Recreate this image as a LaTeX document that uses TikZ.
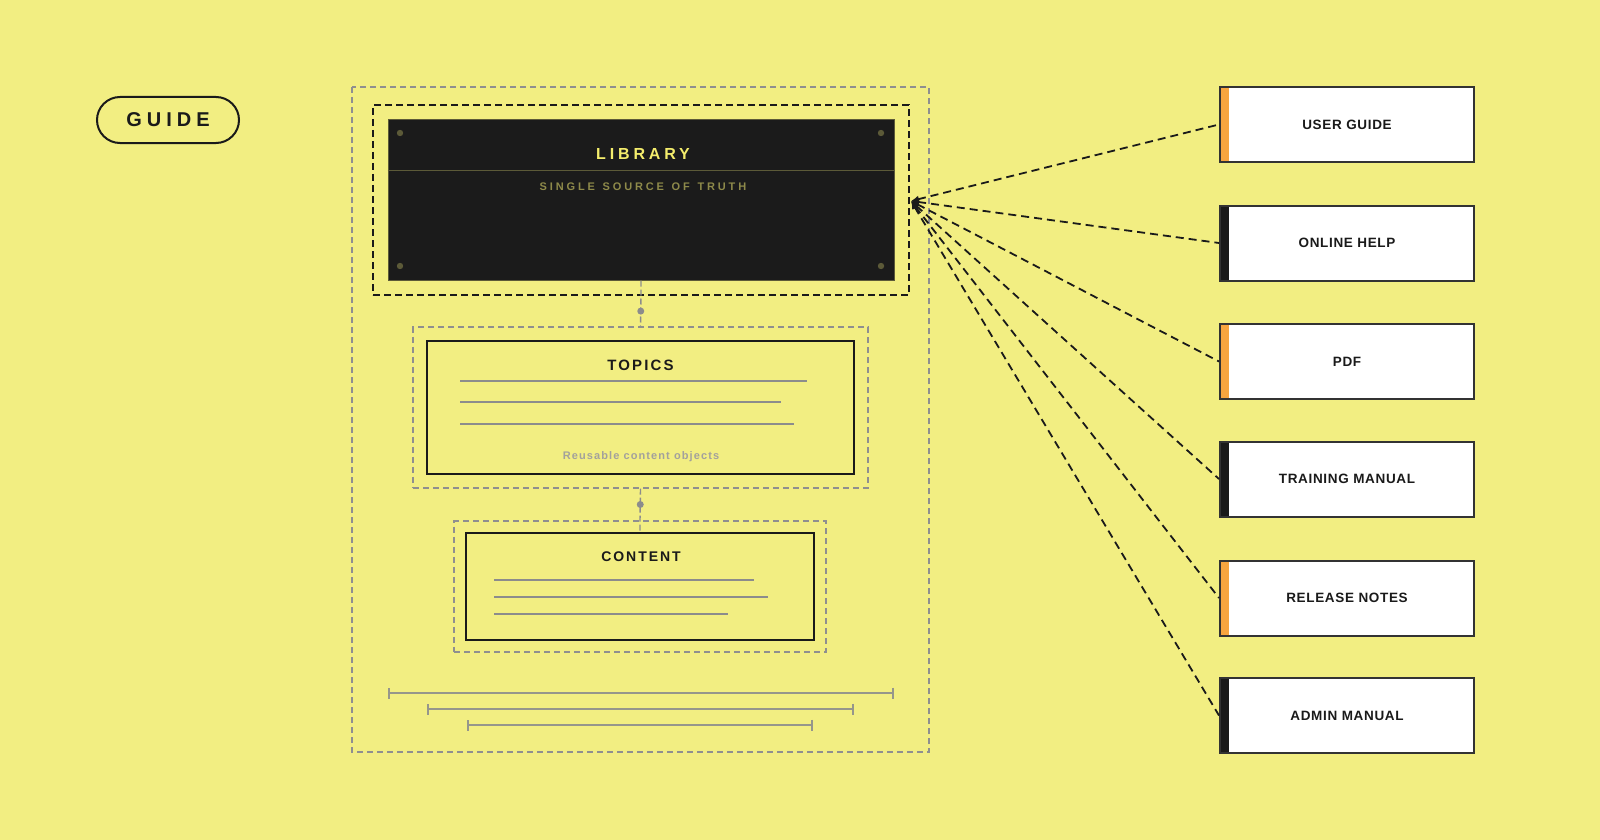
\documentclass[tikz,border=0pt]{standalone}
\usepackage{fontspec}
\setmainfont{Liberation Sans}
\newfontfamily\guidefont{Liberation Sans}[LetterSpace=25]
\newfontfamily\titlefont{Liberation Sans}[LetterSpace=14]
\newfontfamily\libfont{Liberation Sans}[LetterSpace=24]
\newfontfamily\subfont{Liberation Sans}[LetterSpace=26,WordSpace=1.3]
\newfontfamily\boxfont{Liberation Sans}[LetterSpace=5]
\newfontfamily\notefont{Liberation Sans}[LetterSpace=10]
\usetikzlibrary{arrows.meta,positioning,fit}

\definecolor{bgyellow}{HTML}{F2EE82}
\definecolor{libblack}{HTML}{1B1B1B}
\definecolor{libyellow}{HTML}{F4ED6C}
\definecolor{libolive}{HTML}{8E8A4A}
\definecolor{dotolive}{HTML}{5C5A38}
\definecolor{framegray}{HTML}{8F8F8F}
\definecolor{linegray}{HTML}{8C8C8C}
\definecolor{notegray}{HTML}{A3A19C}
\definecolor{stripeorange}{HTML}{F7A53F}
\definecolor{boxedge}{HTML}{333333}
\definecolor{darkink}{HTML}{1A1A1A}

\begin{document}
\begin{tikzpicture}[x=1pt,y=-1pt,
	pill/.style={draw=darkink,line width=2pt,rounded corners=23pt,minimum width=142pt,minimum height=46pt,inner sep=0pt,font=\guidefont\bfseries\fontsize{20}{24}\selectfont,text=darkink},
	libbox/.style={draw=dotolive,line width=1pt,fill=libblack,minimum width=506pt,minimum height=160pt,inner sep=0pt},
	blackframe/.style={draw=darkink,line width=1.6pt,dash pattern=on 7pt off 4pt},
	grayframe/.style={draw=framegray,line width=1.4pt,dash pattern=on 6pt off 4pt},
	topicbox/.style={draw=darkink,line width=2.8pt,inner sep=0pt},
	boxtitle/.style={inner sep=0pt,text=darkink,font=\titlefont\bfseries\fontsize{15}{18}\selectfont},
	textline/.style={draw=linegray,line width=1.8pt},
	link/.style={draw=linegray,line width=1.4pt,dash pattern=on 6pt off 3pt},
	dot/.style={circle,fill=linegray,inner sep=0pt,minimum size=7pt},
	ruler/.style={draw=linegray!90!bgyellow,line width=1.6pt,{Bar[width=11pt]}-{Bar[width=11pt]}},
	outbox/.style={draw=boxedge,line width=2pt,fill=white,minimum width=254pt,minimum height=75pt,inner sep=0pt,
		font=\boxfont\bfseries\fontsize{13.5}{16}\selectfont,text=darkink,
		path picture={\fill[#1] (path picture bounding box.north west) rectangle ([xshift=9pt]path picture bounding box.south west);}},
	output/.style={draw=darkink,line width=1.8pt,dash pattern=on 8pt off 5pt,{Latex[length=8pt,width=7pt]}-}
]
	\fill[bgyellow] (0,0) rectangle (1600,840);

	% tag
	\node[pill] (guide) at (168,120) {GUIDE};

	% outer frame
	\draw[grayframe] (352,87) rectangle (929,752);

	% library
	\node[libbox] (library) at (641,200) {};
	\node[blackframe,fit=(library),inner sep=14.5pt] (libframe) {};
	\draw[draw=dotolive,line width=1pt] (library.west |- 0,170) -- (library.east |- 0,170);
	\fill[dotolive] (400,133) circle [radius=3.2pt] (881,133) circle [radius=3.2pt]
		(400,266) circle [radius=3.2pt] (881,266) circle [radius=3.2pt];
	\node[inner sep=0pt,text=libyellow,font=\libfont\bfseries\fontsize{16}{19}\selectfont] (libtitle) at (643,154) {LIBRARY};
	\node[inner sep=0pt,text=libolive,font=\subfont\bfseries\fontsize{11}{13}\selectfont] (libsub) at (643,187) {SINGLE SOURCE OF TRUTH};

	% topics
	\node[topicbox,minimum width=427pt,minimum height=133pt] (topics) at (640.5,407.5) {};
	\node[grayframe,fit=(topics),inner sep=12.5pt] (topicsframe) {};
	\node[boxtitle] (topicstitle) at (640.5,365.5) {TOPICS};
	\draw[textline] (460,381) -- (807,381);
	\draw[textline] (460,402) -- (781,402);
	\draw[textline] (460,424) -- (794,424);
	\node[inner sep=0pt,text=notegray,font=\notefont\bfseries\fontsize{11}{13}\selectfont] (topicsnote) at (641,457) {Reusable content objects};

	% content
	\node[topicbox,minimum width=348pt,minimum height=107pt] (content) at (640,586.5) {};
	\node[grayframe,fit=(content),inner sep=10.5pt] (contentframe) {};
	\node[boxtitle,font=\titlefont\bfseries\fontsize{14}{17}\selectfont] (contenttitle) at (641,556.5) {CONTENT};
	\draw[textline] (494,580) -- (754,580);
	\draw[textline] (494,597) -- (768,597);
	\draw[textline] (494,614) -- (728,614);

	% links
	\draw[link] (library.south) -- (libframe.south) -- (topicsframe.north) node[midway,dot] {};
	\draw[link] (topicsframe.south) -- (contentframe.north) node[midway,dot] {} -- (content.north);

	% rulers
	\draw[ruler] (388,693) -- (894,693);
	\draw[ruler] (427,709) -- (854,709);
	\draw[ruler] (467,725) -- (813,725);

	% outputs
	\node[outbox=stripeorange] (userguide) at (1347,124.5) {USER GUIDE};
	\node[outbox=darkink] (onlinehelp) at (1347,243) {ONLINE HELP};
	\node[outbox=stripeorange] (pdf) at (1347,361.5) {PDF};
	\node[outbox=darkink] (training) at (1347,479) {TRAINING MANUAL};
	\node[outbox=stripeorange] (release) at (1347,598) {RELEASE NOTES};
	\node[outbox=darkink] (admin) at (1347,715.5) {ADMIN MANUAL};

	\coordinate (hub) at (911,201);
	\draw[output] (hub) -- (userguide.west);
	\draw[output] (hub) -- (onlinehelp.west);
	\draw[output] (hub) -- (pdf.west);
	\draw[output] (hub) -- (training.west);
	\draw[output] (hub) -- (release.west);
	\draw[output] (hub) -- (admin.west);
\end{tikzpicture}
\end{document}
